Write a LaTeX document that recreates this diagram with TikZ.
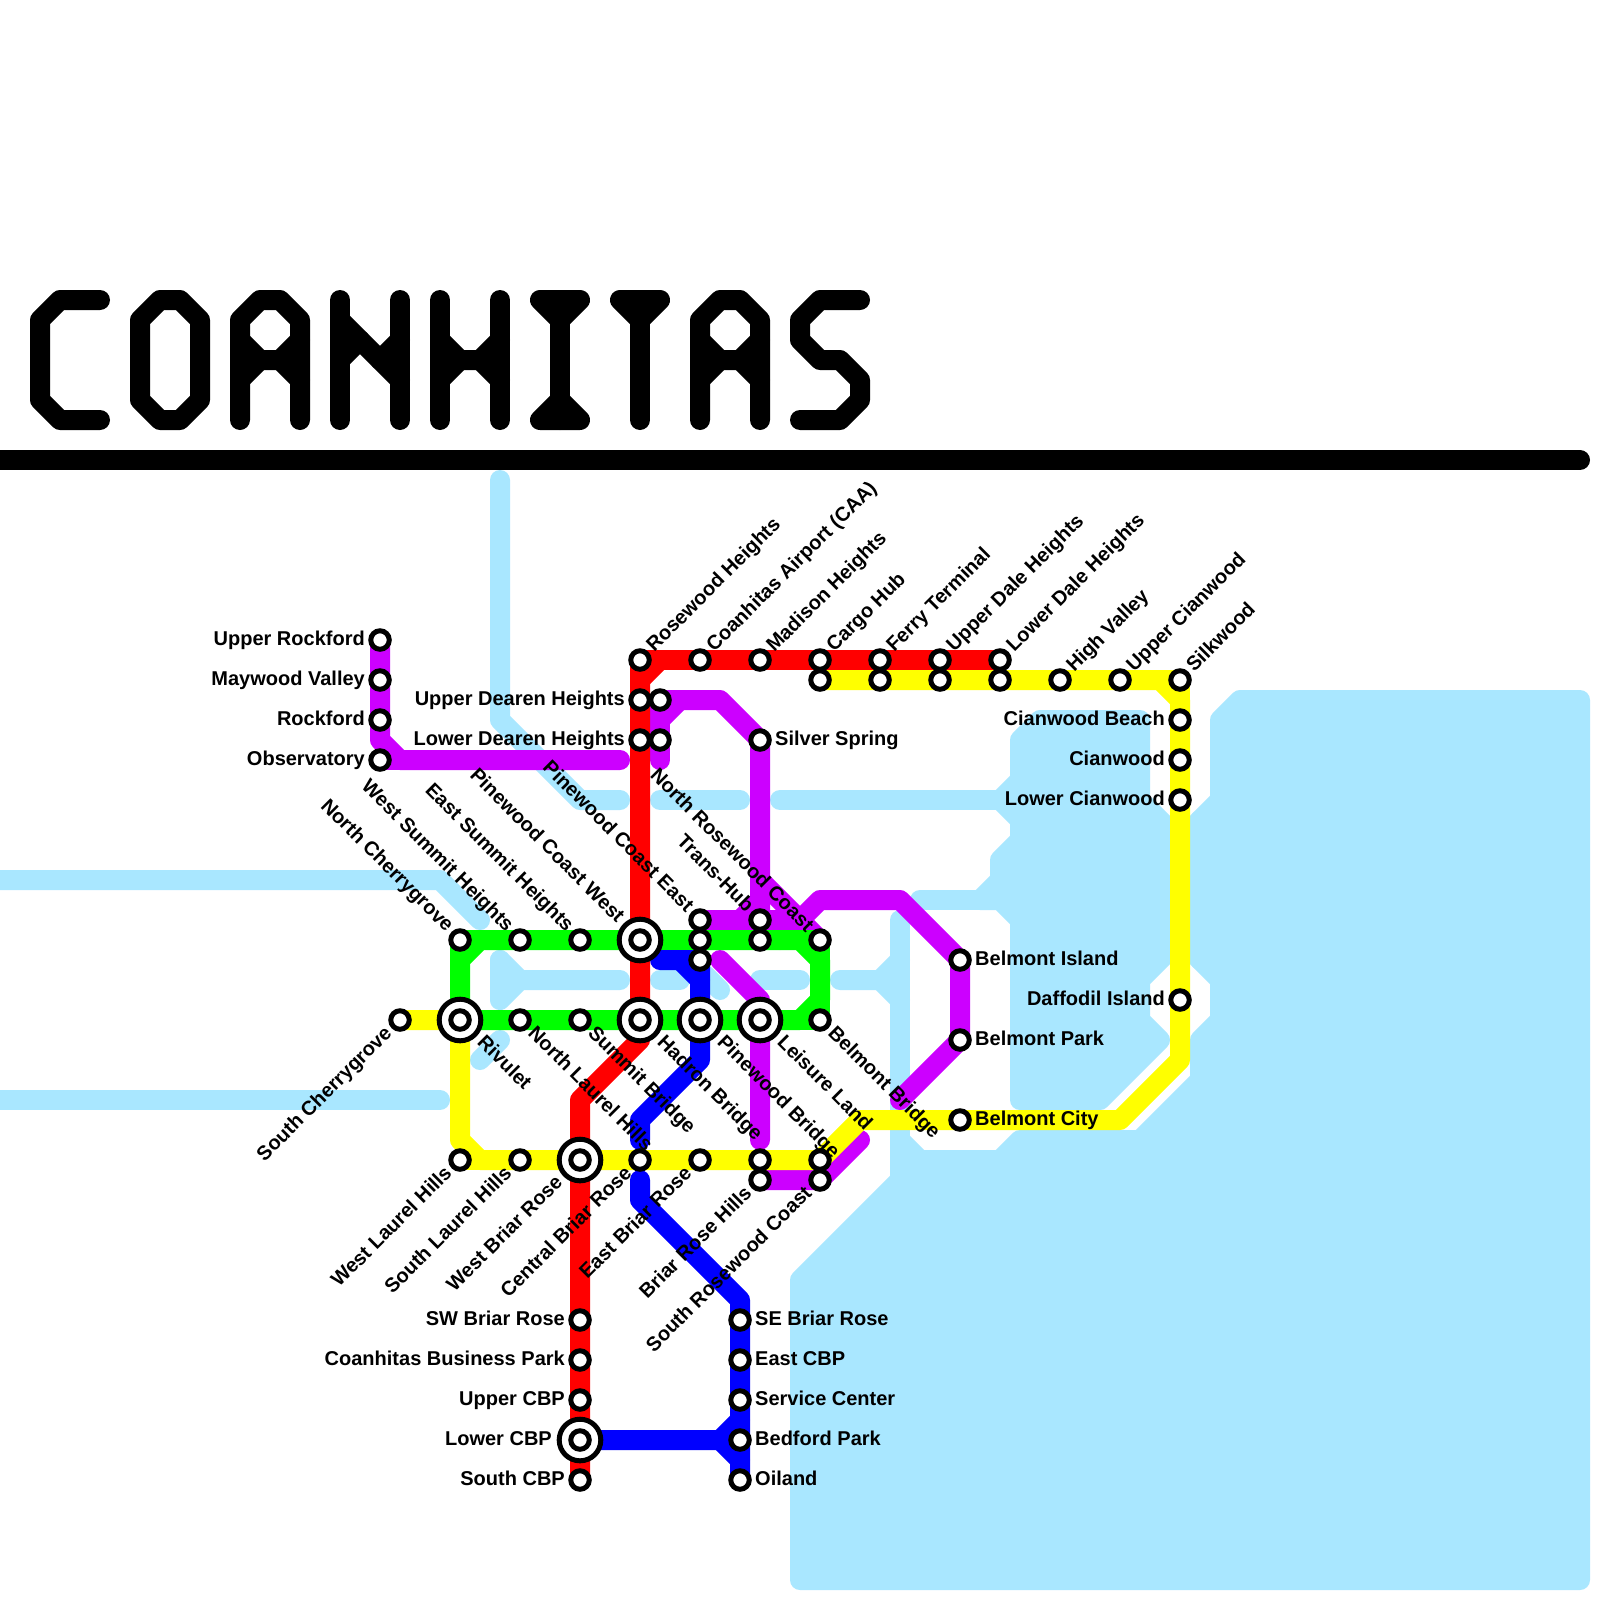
\documentclass[tikz,border=0pt]{standalone}
\usepackage{fontspec}
\setmainfont{Liberation Sans}
\usetikzlibrary{calc}
\definecolor{water}{HTML}{A9E7FF}
\definecolor{lred}{HTML}{FF0000}
\definecolor{lgreen}{HTML}{00FF00}
\definecolor{lblue}{HTML}{0000FF}
\definecolor{lyellow}{HTML}{FFFF00}
\definecolor{lpurple}{HTML}{CC00FF}
\tikzset{
  metro/.style={line width=20pt,line cap=round,line join=round},
  river/.style={metro,draw=water},
  sea/.style={metro,draw=water,fill=water},
  redline/.style={metro,draw=lred},
  greenline/.style={metro,draw=lgreen},
  blueline/.style={metro,draw=lblue},
  yellowline/.style={metro,draw=lyellow},
  purpleline/.style={metro,draw=lpurple},
  titleline/.style={metro,draw=black},
  stationdot/.style={circle,draw=black,fill=white,line width=5pt,minimum size=18.5pt,inner sep=0pt,outer sep=0pt},
  hubring/.style={circle,draw=black,fill=white,line width=5pt,minimum size=41.6pt,inner sep=0pt,outer sep=0pt},
  lbl/.style={font=\fontsize{20}{24}\selectfont\bfseries,inner sep=0pt,text=black},
}
% label leading away from the station, text runs outward
\newcommand{\lout}[3]{\node[lbl,rotate=#2,anchor=base west] (t-#1) at ($(#1)+(#2:15pt)+(#2-90:5pt)$) {#3};}
% label ending at the station
\newcommand{\lin}[3]{\node[lbl,rotate=#2,anchor=base east] (t-#1) at ($(#1)+(#2:-15pt)+(#2-90:5pt)$) {#3};}
% the same two for interchange rings
\newcommand{\hout}[3]{\node[lbl,rotate=#2,anchor=base west] (t-#1) at ($(#1)+(#2:28pt)+(#2-90:5pt)$) {#3};}
\newcommand{\hin}[3]{\node[lbl,rotate=#2,anchor=base east] (t-#1) at ($(#1)+(#2:-28pt)+(#2-90:5pt)$) {#3};}
\newcommand{\stn}[3]{\coordinate (#1) at (#2,#3);}
\begin{document}
\begin{tikzpicture}[x=1pt,y=-1pt]
\useasboundingbox (0,0) rectangle (1600,1600);
\fill[white] (0,0) rectangle (1600,1600);

% stations
\stn{ur}{380}{640}\stn{mv}{380}{680}\stn{rf}{380}{720}\stn{ob}{380}{760}
\stn{rh}{640}{660}\stn{ca}{700}{660}\stn{mh}{760}{660}\stn{ch}{820}{660}\stn{ft}{880}{660}\stn{ud}{940}{660}\stn{ld}{1000}{660}
\stn{y1}{820}{680}\stn{y2}{880}{680}\stn{y3}{940}{680}\stn{y4}{1000}{680}\stn{hv}{1060}{680}\stn{uc}{1120}{680}\stn{sw}{1180}{680}
\stn{cb}{1180}{720}\stn{cw}{1180}{760}\stn{lc}{1180}{800}\stn{di}{1180}{1000}
\stn{udh}{640}{700}\stn{ldh}{640}{740}\stn{p1}{660}{700}\stn{p2}{660}{740}\stn{ss}{760}{740}
\stn{pe}{700}{920}\stn{th}{760}{920}\stn{ncg}{460}{940}\stn{wsh}{520}{940}\stn{esh}{580}{940}\stn{pw}{640}{940}
\stn{g1}{700}{940}\stn{g2}{760}{940}\stn{nr}{820}{940}\stn{b1}{700}{960}
\stn{bi}{960}{960}\stn{bp}{960}{1040}\stn{bc}{960}{1120}
\stn{sc}{400}{1020}\stn{rv}{460}{1020}\stn{nl}{520}{1020}\stn{sb}{580}{1020}\stn{hb}{640}{1020}\stn{pb}{700}{1020}\stn{ll}{760}{1020}\stn{bb}{820}{1020}
\stn{wl}{460}{1160}\stn{sl}{520}{1160}\stn{wb}{580}{1160}\stn{cbr}{640}{1160}\stn{eb}{700}{1160}\stn{y5}{760}{1160}\stn{y6}{820}{1160}
\stn{brh}{760}{1180}\stn{src}{820}{1180}
\stn{swb}{580}{1320}\stn{cbp}{580}{1360}\stn{ucb}{580}{1400}\stn{lcb}{580}{1440}\stn{scb}{580}{1480}
\stn{seb}{740}{1320}\stn{ec}{740}{1360}\stn{svc}{740}{1400}\stn{bdp}{740}{1440}\stn{oi}{740}{1480}

% water
\path[sea] (1240,700)--(1580,700)--(1580,1580)--(800,1580)--(800,1280)--(900,1180)--(900,1140)--(920,1160)--(1000,1160)--(1020,1140)--(1140,1140)--(1200,1080)--(1200,1040)--(1220,1020)--(1220,980)--(1200,960)--(1200,820)--(1220,800)--(1220,720)--cycle;
\path[sea] (1140,720)--(1040,720)--(1020,740)--(1020,780)--(1000,800)--(1020,820)--(1020,840)--(1000,860)--(1000,880)--(980,900)--(1000,900)--(1020,920)--(1020,1100)--(1100,1100)--(1160,1040)--(1140,1020)--(1140,980)--(1160,960)--(1180,940)--(1200,960)--(1200,820)--(1180,840)--(1160,820)--(1140,800)--cycle;
\draw[river] (500,480)--(500,720)--(580,800)--(620,800);
\draw[river] (660,800)--(740,800);
\draw[river] (780,800)--(1000,800);
\draw[river] (0,880)--(440,880)--(480,920);
\draw[river] (0,1100)--(440,1100);
\draw[river] (480,1060)--(500,1040);
\draw[river] (500,960)--(500,1000)--(520,980)--(620,980);
\draw[river] (500,960)--(520,980);
\draw[river] (660,980)--(680,980);
\draw[river] (705,975)--(720,990);
\draw[river] (760,980)--(800,980);
\draw[river] (840,980)--(880,980)--(900,960);
\draw[river] (880,980)--(900,1000);
\draw[river] (900,920)--(900,1140);
\draw[river] (920,900)--(1000,900);

% lines
\draw[purpleline] (ur)--(380,740)--(400,760)--(620,760);
\draw[purpleline] (ob)--(400,760);
\draw[purpleline] (p2)--(660,760);
\draw[purpleline] (660,720)--(680,700);
\draw[purpleline] (p1)--(p2);
\draw[purpleline] (p1)--(720,700)--(ss)--(th);
\draw[purpleline] (760,900)--(740,920);
\draw[purpleline] (760,880)--(nr);
\draw[purpleline] (pe)--(800,920);
\draw[purpleline] (780,940)--(820,900)--(900,900)--(bi)--(bp)--(900,1100);
\draw[purpleline] (720,960)--(760,1000)--(760,1140);
\draw[purpleline] (brh)--(src)--(860,1140);

\draw[yellowline] (sc)--(rv)--(460,1140)--(480,1160)--(y6)--(860,1120)--(1120,1120)--(1180,1060)--(1180,700)--(1160,680)--(y1);
\draw[yellowline] (wl)--(480,1160);
\draw[yellowline] (1160,680)--(sw)--(1180,700);

\draw[greenline] (rv)--(460,960)--(480,940)--(800,940)--(820,960)--(820,1000)--(800,1020)--(rv);
\draw[greenline] (ncg)--(nr)--(bb)--(800,1020);
\draw[greenline] (ncg)--(460,960);

\draw[blueline] (660,960)--(700,960)--(700,1060)--(640,1120)--(640,1140);
\draw[blueline] (680,960)--(700,980);
\draw[blueline] (640,1180)--(640,1200)--(740,1300)--(oi);
\draw[blueline] (lcb)--(720,1440)--(740,1420);
\draw[blueline] (720,1440)--(740,1460);
\draw[blueline] (720,1440)--(bdp);

\draw[redline] (rh)--(ld);
\draw[redline] (rh)--(640,680)--(660,660);
\draw[redline] (640,680)--(640,1040)--(580,1100)--(scb);

% title
\draw[titleline] (100,300)--(60,300)--(40,320)--(40,400)--(60,420)--(100,420);
\draw[titleline] (160,300)--(180,300)--(200,320)--(200,400)--(180,420)--(160,420)--(140,400)--(140,320)--cycle;
\draw[titleline] (240,420)--(240,320)--(260,300)--(280,300)--(300,320)--(300,420);
\draw[titleline] (240,340)--(260,360)--(280,360)--(300,340);
\draw[titleline] (240,380)--(260,360);
\draw[titleline] (300,380)--(280,360);
\draw[titleline] (340,420)--(340,300);
\draw[titleline] (400,420)--(400,300);
\draw[titleline] (340,320)--(400,380);
\draw[titleline] (340,360)--(360,340);
\draw[titleline] (380,360)--(400,340);
\draw[titleline] (440,420)--(440,300);
\draw[titleline] (500,420)--(500,300);
\draw[titleline] (440,340)--(460,360)--(480,360)--(500,340);
\draw[titleline] (440,380)--(460,360);
\draw[titleline] (500,380)--(480,360);
\draw[titleline] (540,300)--(580,300)--(560,320)--cycle;
\draw[titleline] (560,300)--(560,420);
\draw[titleline] (540,420)--(580,420)--(560,400)--cycle;
\draw[titleline] (620,300)--(660,300)--(640,320)--cycle;
\draw[titleline] (640,300)--(640,420);
\draw[titleline] (700,420)--(700,320)--(720,300)--(740,300)--(760,320)--(760,420);
\draw[titleline] (700,340)--(720,360)--(740,360)--(760,340);
\draw[titleline] (700,380)--(720,360);
\draw[titleline] (760,380)--(740,360);
\draw[titleline] (860,300)--(820,300)--(800,320)--(800,340)--(820,360)--(840,360)--(860,380)--(860,400)--(840,420)--(800,420);
\draw[line width=20pt,line cap=round,draw=black] (0,460)--(1580,460);

% station markers
\foreach \s in {ur,mv,rf,ob,rh,ca,mh,ch,ft,ud,ld,y1,y2,y3,y4,hv,uc,sw,cb,cw,lc,di,udh,ldh,p1,p2,ss,pe,th,ncg,wsh,esh,g1,g2,nr,b1,bi,bp,bc,sc,nl,sb,bb,wl,sl,cbr,eb,y5,y6,brh,src,swb,cbp,ucb,scb,seb,ec,svc,bdp,oi}
  \node[stationdot] (n-\s) at (\s) {};
\foreach \s in {pw,rv,hb,pb,ll,wb,lcb}{
  \node[hubring] (r-\s) at (\s) {};
  \node[stationdot] (n-\s) at (\s) {};
}

% labels
\lin{ur}{0}{Upper Rockford}
\lin{mv}{0}{Maywood Valley}
\lin{rf}{0}{Rockford}
\lin{ob}{0}{Observatory}
\lin{udh}{0}{Upper Dearen Heights}
\lin{ldh}{0}{Lower Dearen Heights}
\lout{ss}{0}{Silver Spring}
\lout{rh}{45}{Rosewood Heights}
\lout{ca}{45}{Coanhitas Airport (CAA)}
\lout{mh}{45}{Madison Heights}
\lout{ch}{45}{Cargo Hub}
\lout{ft}{45}{Ferry Terminal}
\lout{ud}{45}{Upper Dale Heights}
\lout{ld}{45}{Lower Dale Heights}
\lout{hv}{45}{High Valley}
\lout{uc}{45}{Upper Cianwood}
\lout{sw}{45}{Silkwood}
\lin{cb}{0}{Cianwood Beach}
\lin{cw}{0}{Cianwood}
\lin{lc}{0}{Lower Cianwood}
\lin{di}{0}{Daffodil Island}
\lout{bi}{0}{Belmont Island}
\lout{bp}{0}{Belmont Park}
\lout{bc}{0}{Belmont City}
\lin{ncg}{-45}{North Cherrygrove}
\lin{wsh}{-45}{West Summit Heights}
\lin{esh}{-45}{East Summit Heights}
\hin{pw}{-45}{Pinewood Coast West}
\lin{pe}{-45}{Pinewood Coast East}
\lin{th}{-45}{Trans-Hub}
\lin{nr}{-45}{North Rosewood Coast}
\lin{sc}{45}{South Cherrygrove}
\hout{rv}{-45}{Rivulet}
\lout{nl}{-45}{North Laurel Hills}
\lout{sb}{-45}{Summit Bridge}
\hout{hb}{-45}{Hadron Bridge}
\hout{pb}{-45}{Pinewood Bridge}
\hout{ll}{-45}{Leisure Land}
\lout{bb}{-45}{Belmont Bridge}
\lin{wl}{45}{West Laurel Hills}
\lin{sl}{45}{South Laurel Hills}
\hin{wb}{45}{West Briar Rose}
\lin{cbr}{45}{Central Briar Rose}
\lin{eb}{45}{East Briar Rose}
\lin{brh}{45}{Briar Rose Hills}
\lin{src}{45}{South Rosewood Coast}
\lin{swb}{0}{SW Briar Rose}
\lin{cbp}{0}{Coanhitas Business Park}
\lin{ucb}{0}{Upper CBP}
\hin{lcb}{0}{Lower CBP}
\lin{scb}{0}{South CBP}
\lout{seb}{0}{SE Briar Rose}
\lout{ec}{0}{East CBP}
\lout{svc}{0}{Service Center}
\lout{bdp}{0}{Bedford Park}
\lout{oi}{0}{Oiland}
\end{tikzpicture}
\end{document}
